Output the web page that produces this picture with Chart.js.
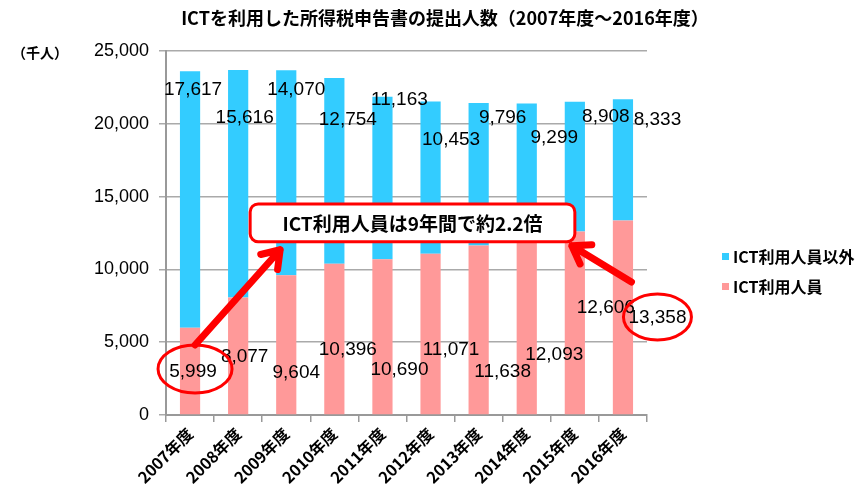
<!DOCTYPE html>
<html lang="ja">
<head>
  <meta charset="UTF-8">
  <title>ICTを利用した所得税申告書の提出人数</title>
  <script src="https://cdn.jsdelivr.net/npm/chart.js"></script>
  <style>
    html, body {
      margin: 0;
      padding: 0;
      background: #fff;
    }
    canvas {
      display: block;
    }
  </style>
</head>
<body>

  <canvas id="grafico" width="868" height="499"></canvas>

  <script>
    // データ（千人）
    const years = ['2007年度', '2008年度', '2009年度', '2010年度', '2011年度',
                   '2012年度', '2013年度', '2014年度', '2015年度', '2016年度'];
    const ictUsers = [5999, 8077, 9604, 10396, 10690, 11071, 11638, 12093, 12606, 13358];
    const otherUsers = [17617, 15616, 14070, 12754, 11163, 10453, 9796, 9299, 8908, 8333];
    const yTicks = [0, 5000, 10000, 15000, 20000, 25000];

    const TITLE = 'ICTを利用した所得税申告書の提出人数（2007年度～2016年度）';
    const PINK = '#FF9999';
    const BLUE = '#33CCFF';
    const RED = '#FF0000';
    const JP = '"Noto Sans CJK JP", sans-serif';
    const NUM = '"Liberation Sans", Arial, sans-serif';

    const fmt = v => v.toLocaleString('en-US');

    // ラベルの微調整（手で置かれたような位置）
    const otherLabelDy = [39, 67, 39, 69, 49, 89, 67, 87, 66, 69];
    const ictLabelDy = [-43, -58, -42, -65, -45, -65, -43, -60, -107, -97];

    function arrow(ctx, x1, y1, x2, y2) {
      const ang = Math.atan2(y2 - y1, x2 - x1);
      const len = 20;
      ctx.beginPath();
      ctx.moveTo(x1, y1);
      ctx.lineTo(x2, y2);
      ctx.moveTo(x2 - len * Math.cos(ang - 0.6), y2 - len * Math.sin(ang - 0.6));
      ctx.lineTo(x2, y2);
      ctx.lineTo(x2 - len * Math.cos(ang + 0.6), y2 - len * Math.sin(ang + 0.6));
      ctx.stroke();
    }

    const decor = {
      id: 'decor',
      afterDatasetsDraw(chart) {
        const { ctx, chartArea: a, scales: { x, y } } = chart;
        ctx.save();
        ctx.textAlign = 'center';
        ctx.textBaseline = 'middle';

        // タイトル
        ctx.fillStyle = '#000';
        ctx.font = 'bold 18px ' + JP;
        ctx.fillText(TITLE, 445, 18);

        // 数値ラベル
        ctx.font = '19px ' + NUM;
        const lx = i => x.getPixelForValue(i) + 3 + i * 3.5;
        years.forEach((_, i) => {
          ctx.fillText(fmt(otherUsers[i]), lx(i), a.top + otherLabelDy[i]);
          ctx.fillText(fmt(ictUsers[i]), lx(i), a.bottom + ictLabelDy[i]);
        });

        // 囲み
        const last = years.length - 1;
        const e1 = { x: lx(0) + 2, y: a.bottom + ictLabelDy[0] - 3, rx: 37, ry: 24 };
        const e2 = { x: lx(last), y: a.bottom + ictLabelDy[last] - 1, rx: 34, ry: 23 };
        ctx.strokeStyle = RED;
        ctx.lineWidth = 3;
        [e1, e2].forEach(e => {
          ctx.beginPath();
          ctx.ellipse(e.x, e.y, e.rx, e.ry, 0, 0, Math.PI * 2);
          ctx.stroke();
        });

        // 吹き出し
        const box = {
          l: x.getPixelForValue(1) + 12,
          r: x.getPixelForValue(8),
          t: y.getPixelForValue(14500),
          b: y.getPixelForValue(11900)
        };

        ctx.lineWidth = 7;
        ctx.lineCap = 'round';
        ctx.lineJoin = 'round';
        arrow(ctx, e1.x, e1.y - e1.ry, box.l + 30, box.b + 8);
        arrow(ctx, e2.x - 26, e2.y - 35, box.r - 3, box.b + 4);

        ctx.beginPath();
        ctx.roundRect(box.l, box.t, box.r - box.l, box.b - box.t, 8);
        ctx.fillStyle = '#fff';
        ctx.fill();
        ctx.lineWidth = 3;
        ctx.stroke();

        ctx.fillStyle = '#000';
        ctx.font = 'bold 19px ' + JP;
        ctx.fillText('ICT利用人員は9年間で約2.2倍', (box.l + box.r) / 2, (box.t + box.b) / 2 + 1);

        // 単位
        ctx.font = 'bold 14px ' + JP;
        ctx.fillText('（千人）', 40, a.top + 2);

        // 凡例
        ctx.textAlign = 'left';
        ctx.font = 'bold 16px ' + JP;
        [[BLUE, 'ICT利用人員以外', 256], [PINK, 'ICT利用人員', 286]].forEach(([c, t, ly]) => {
          ctx.fillStyle = c;
          ctx.fillRect(a.right + 75, ly - 3, 7, 7);
          ctx.fillStyle = '#000';
          ctx.fillText(t, a.right + 86, ly + 1);
        });

        ctx.restore();
      }
    };

    const ctx = document.getElementById('grafico').getContext('2d');
    new Chart(ctx, {
      type: 'bar',
      data: {
        labels: years,
        datasets: [
          {
            label: 'ICT利用人員',
            data: ictUsers,
            backgroundColor: PINK,
            categoryPercentage: 1,
            barPercentage: 0.42
          },
          {
            label: 'ICT利用人員以外',
            data: otherUsers,
            backgroundColor: BLUE,
            categoryPercentage: 1,
            barPercentage: 0.42
          }
        ]
      },
      options: {
        responsive: false,
        animation: false,
        devicePixelRatio: 1,
        layout: { padding: { left: 0, right: 221, top: 51, bottom: 0 } },
        plugins: {
          legend: { display: false },
          tooltip: { enabled: false },
          title: { display: false }
        },
        scales: {
          x: {
            stacked: true,
            grid: {
              offset: true,
              drawOnChartArea: false,
              tickLength: 7,
              color: '#999',
              lineWidth: 1.5
            },
            border: { color: '#999', width: 2 },
            ticks: {
              color: '#000',
              font: { family: JP, size: 16, weight: 'bold' },
              autoSkip: false,
              maxRotation: 45,
              minRotation: 45,
              padding: 2
            },
            afterFit: s => { s.height = 84; }
          },
          y: {
            stacked: true,
            min: 0,
            max: 25000,
            afterBuildTicks: s => { s.ticks = yTicks.map(v => ({ value: v })); },
            grid: { color: '#aaa', lineWidth: 1.5, tickLength: 7 },
            border: { color: '#999', width: 2 },
            ticks: {
              color: '#000',
              font: { family: NUM, size: 18 },
              padding: 10,
              callback: v => fmt(v)
            },
            afterFit: s => { s.width = 166; }
          }
        }
      },
      plugins: [decor]
    });
  </script>

</body>
</html>
